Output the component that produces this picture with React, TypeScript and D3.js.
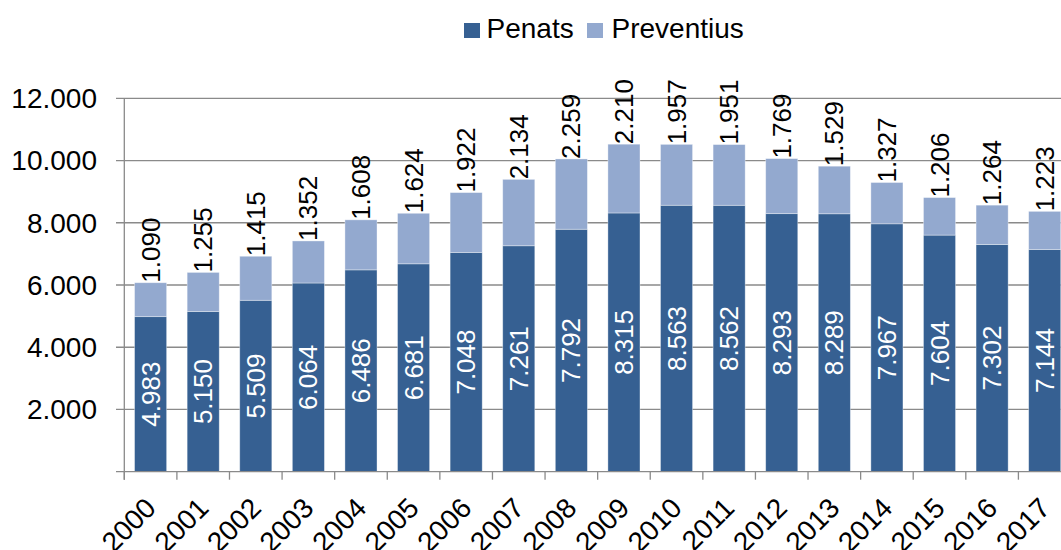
import React from "react"
import * as d3 from "d3"

const years = ["2000", "2001", "2002", "2003", "2004", "2005", "2006", "2007", "2008", "2009", "2010", "2011", "2012", "2013", "2014", "2015", "2016", "2017"]
const penats = [4983, 5150, 5509, 6064, 6486, 6681, 7048, 7261, 7792, 8315, 8563, 8562, 8293, 8289, 7967, 7604, 7302, 7144]
const preventius = [1090, 1255, 1415, 1352, 1608, 1624, 1922, 2134, 2259, 2210, 1957, 1951, 1769, 1529, 1327, 1206, 1264, 1223]
const yTicks = [2000, 4000, 6000, 8000, 10000, 12000]
const seriesNames = ["Penats", "Preventius"]

const DARK = "#366092"
const LIGHT = "#93a9cf"
const GRID = "#8a8a8a"
const FONT = "'Liberation Sans', Arial, sans-serif"

const width = 1061
const height = 550

const locale = d3.formatLocale({ decimal: ",", thousands: ".", grouping: [3], currency: ["", "€"] })
const fmt = locale.format(",d")

export default function App() {
  const x = d3.scaleBand<string>().domain(years).range([124.3, 1071]).paddingInner(0.39).paddingOuter(0.195)
  const y = d3.scaleLinear().domain([0, 12000]).range([471.7, 98.3])

  const rows = years.map((yr, i) => ({ year: yr, penats: penats[i], preventius: preventius[i] }))
  const stacked = d3.stack<any>().keys(["penats", "preventius"])(rows)

  const step = x.step()
  const x0 = x.range()[0]
  const baseY = y(0)

  return (
    <svg width={width} height={height} style={{ position: "absolute", left: 0, top: 0, background: "#fff" }} fontFamily={FONT}>
      {/* legend */}
      <g>
        <rect x={464} y={23} width={16} height={15} fill={DARK} />
        <text x={486.5} y={38.3} fontSize={28} fill="#000">{seriesNames[0]}</text>
        <rect x={587} y={23} width={16} height={15} fill={LIGHT} />
        <text x={611.5} y={38.3} fontSize={28} fill="#000">{seriesNames[1]}</text>
      </g>

      {/* gridlines + y axis */}
      {yTicks.map((t) => (
        <g key={t}>
          <line x1={116} x2={width} y1={y(t)} y2={y(t)} stroke={GRID} strokeWidth={1.3} />
          <text x={97} y={y(t)} dy="0.35em" textAnchor="end" fontSize={28} fill="#000">{fmt(t)}</text>
        </g>
      ))}
      <line x1={x0} x2={x0} y1={y(12000)} y2={baseY + 8} stroke={GRID} strokeWidth={1.3} />

      {/* bars */}
      {stacked.map((s, si) => (
        <g key={s.key}>
          {s.map((d: any, i: number) => (
            <rect
              key={i}
              x={x(years[i])}
              y={y(d[1])}
              width={x.bandwidth()}
              height={y(d[0]) - y(d[1])}
              fill={si === 0 ? DARK : LIGHT}
              stroke="#ffffff"
              strokeOpacity={0.45}
              strokeWidth={0.8}
            />
          ))}
        </g>
      ))}

      {/* x axis */}
      <line x1={116} x2={width} y1={baseY} y2={baseY} stroke={GRID} strokeWidth={1.3} />
      {d3.range(years.length + 1).map((i) => (
        <line key={i} x1={x0 + i * step} x2={x0 + i * step} y1={baseY} y2={baseY + 8} stroke={GRID} strokeWidth={1.3} />
      ))}
      {years.map((yr) => {
        const cx = (x(yr) as number) + x.bandwidth() / 2
        return (
          <text key={yr} transform={`translate(${cx + 7},${baseY + 38}) rotate(-45)`} textAnchor="end" fontSize={28} fill="#000">
            {yr}
          </text>
        )
      })}

      {/* Penats labels (white, centered) */}
      {rows.map((r) => {
        const cx = (x(r.year) as number) + x.bandwidth() / 2
        const cy = (y(0) + y(r.penats)) / 2
        return (
          <text
            key={"p" + r.year}
            transform={`translate(${cx},${cy}) rotate(-90)`}
            textAnchor="middle"
            dy="0.35em"
            fontSize={26}
            fill="#fff"
          >
            {fmt(r.penats)}
          </text>
        )
      })}

      {/* Preventius labels (black, above bar) */}
      {rows.map((r) => {
        const cx = (x(r.year) as number) + x.bandwidth() / 2
        const top = y(r.penats + r.preventius)
        return (
          <text
            key={"v" + r.year}
            transform={`translate(${cx},${top}) rotate(-90)`}
            textAnchor="start"
            dy="0.35em"
            fontSize={26}
            fill="#000"
          >
            {fmt(r.preventius)}
          </text>
        )
      })}
    </svg>
  )
}
